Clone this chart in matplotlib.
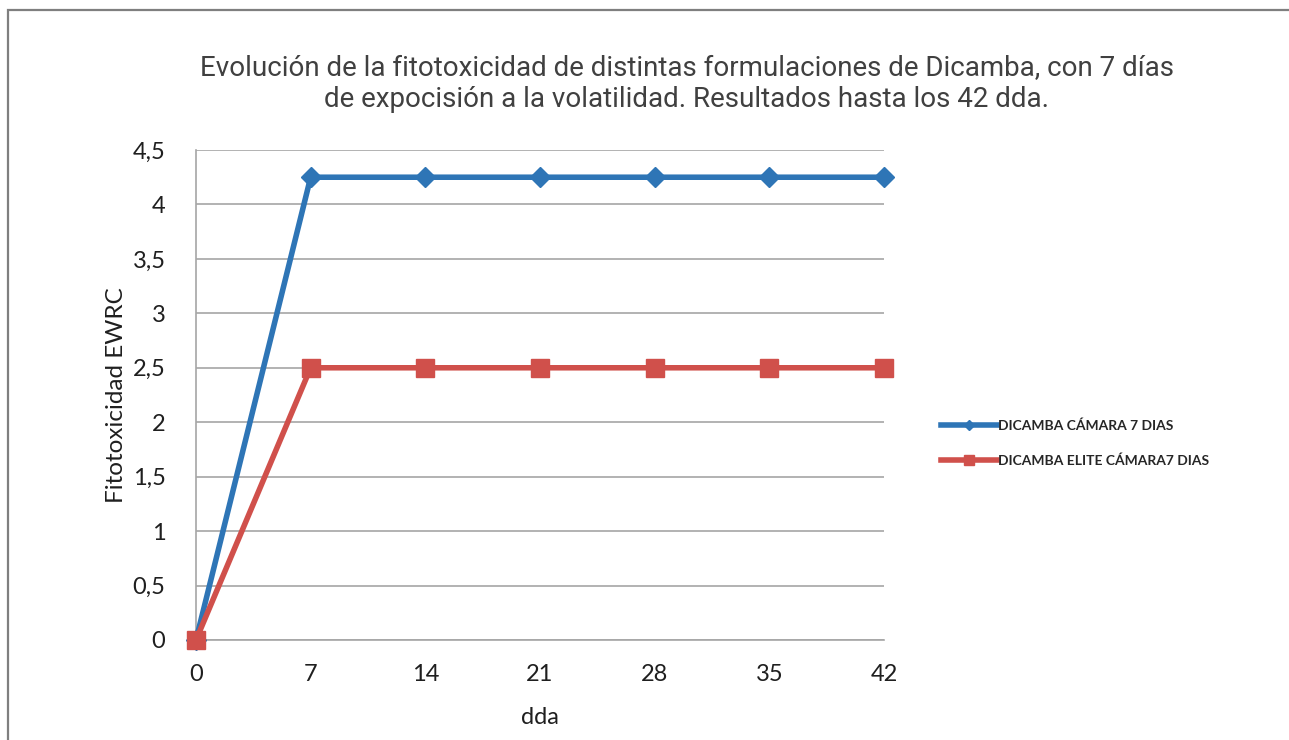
import matplotlib
matplotlib.use("Agg")
import matplotlib.pyplot as plt
from matplotlib.patches import Rectangle

plt.rcParams['font.family'] = ['Lato', 'DejaVu Sans']

dda = [0, 7, 14, 21, 28, 35, 42]
camara = [0, 4.25, 4.25, 4.25, 4.25, 4.25, 4.25]
elite = [0, 2.5, 2.5, 2.5, 2.5, 2.5, 2.5]
yticks = [0, 0.5, 1, 1.5, 2, 2.5, 3, 3.5, 4, 4.5]
ytick_labels = ['0', '0,5', '1', '1,5', '2', '2,5', '3', '3,5', '4', '4,5']
series_names = ['DICAMBA CÁMARA 7 DIAS', 'DICAMBA ELITE CÁMARA7 DIAS']
title = ("Evolución de la fitotoxicidad de distintas formulaciones de Dicamba, con 7 días\n"
         "de expocisión a la volatilidad. Resultados hasta los 42 dda.")

W, H = 1289, 740
fig = plt.figure(figsize=(W / 100, H / 100), dpi=100)
fig.patch.set_facecolor('white')

# outer frame
fig.add_artist(Rectangle((8 / W, -0.01), 1.0, 1 - 10 / H + 0.01, transform=fig.transFigure,
                         fill=False, edgecolor='#7f7f7f', linewidth=1.6))

ax = fig.add_axes([196 / W, 1 - 640 / H, (884 - 196) / W, (640 - 150) / H])
ax.set_facecolor('white')

blue = '#2e75b6'
red = '#d0504b'
ax.plot(dda, camara, color=blue, linewidth=4, marker='D', markersize=10,
        label=series_names[0], clip_on=False, zorder=3)
ax.plot(dda, elite, color=red, linewidth=4, marker='s', markersize=13,
        label=series_names[1], clip_on=False, zorder=4)

ax.set_xlim(0, 42)
ax.set_ylim(0, 4.5)
ax.set_xticks(dda)
ax.set_xticklabels([str(d) for d in dda])
ax.set_yticks(yticks)
ax.set_yticklabels(ytick_labels)
ax.grid(axis='y', color='#a6a6a6', linewidth=1.2)
ax.set_axisbelow(True)
for s in ['top', 'right']:
    ax.spines[s].set_visible(False)
ax.spines['left'].set_color('#a6a6a6')
ax.spines['bottom'].set_color('#a6a6a6')
ax.spines['left'].set_linewidth(1.2)
ax.spines['bottom'].set_linewidth(1.2)
ax.tick_params(axis='both', length=0, labelsize=17, colors='#1f1f1f')
ax.tick_params(axis='x', pad=17)
ax.tick_params(axis='y', pad=22)

ax.set_xlabel('dda', fontsize=17, color='#1f1f1f', labelpad=16)
ax.set_ylabel('Fitotoxicidad EWRC', fontsize=17.5, color='#1f1f1f', labelpad=4)

fig.text(687 / W, 1 - 84 / H, title, ha='center', va='center', fontsize=20,
         color='#404040', linespacing=1.2, family=['Roboto', 'DejaVu Sans'])

leg = fig.legend(loc='center left', bbox_to_anchor=(929 / W, 1 - 443 / H),
                 frameon=False, fontsize=10, handlelength=4.0, labelspacing=1.6,
                 handletextpad=0.05, markerscale=0.5)
for t in leg.get_texts():
    t.set_color('#262626')
    t.set_fontweight('bold')

fig.savefig('out.png', dpi=100)
